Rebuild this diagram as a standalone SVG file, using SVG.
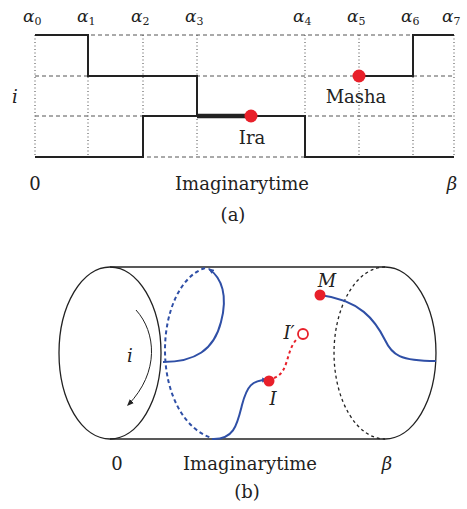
<svg xmlns="http://www.w3.org/2000/svg" width="467" height="509" viewBox="0 0 467 509">
<defs>
<style>
text{font-family:'DejaVu Serif',serif;fill:#222}
.lbl{font-size:18px}
.al{font-size:17px;font-style:italic}
.it{font-style:italic}
.dot{stroke:#444;stroke-width:1;stroke-dasharray:1,2.5;fill:none}
.dash{stroke:#555;stroke-width:1;stroke-dasharray:4,3;fill:none}
.wl{stroke:#222;stroke-width:2;fill:none}
.cyl{stroke:#222;stroke-width:1.3;fill:none}
.blue{stroke:#2f4fa6;stroke-width:2;fill:none}
.red{fill:#e8202a}
</style>
<marker id="ab" viewBox="0 0 10 10" refX="8" refY="5" markerWidth="6" markerHeight="6" orient="auto" markerUnits="userSpaceOnUse"><path d="M0,1 L10,5 L0,9 Z" fill="#2f4fa6"/></marker>
<marker id="ak" viewBox="0 0 10 10" refX="8" refY="5" markerWidth="7" markerHeight="7" orient="auto" markerUnits="userSpaceOnUse"><path d="M0,1 L10,5 L0,9 Z" fill="#222"/></marker>
</defs>

<!-- Panel (a) -->
<g id="grid">
<line class="dot" x1="35" y1="35" x2="35" y2="157"/>
<line class="dot" x1="88" y1="35" x2="88" y2="157"/>
<line class="dot" x1="143" y1="35" x2="143" y2="157"/>
<line class="dot" x1="197" y1="35" x2="197" y2="157"/>
<line class="dot" x1="305" y1="35" x2="305" y2="157"/>
<line class="dot" x1="359" y1="35" x2="359" y2="157"/>
<line class="dot" x1="413" y1="35" x2="413" y2="157"/>
<line class="dot" x1="454" y1="35" x2="454" y2="157"/>
<line class="dash" x1="35" y1="35" x2="454" y2="35"/>
<line class="dash" x1="35" y1="76" x2="454" y2="76"/>
<line class="dash" x1="35" y1="116" x2="454" y2="116"/>
<line class="dash" x1="35" y1="157" x2="454" y2="157"/>
</g>
<g id="alpha-labels">
<text x="23" y="22" class="al">α<tspan font-size="11" font-style="normal" dy="3">0</tspan></text>
<text x="77" y="22" class="al">α<tspan font-size="11" font-style="normal" dy="3">1</tspan></text>
<text x="131" y="22" class="al">α<tspan font-size="11" font-style="normal" dy="3">2</tspan></text>
<text x="185" y="22" class="al">α<tspan font-size="11" font-style="normal" dy="3">3</tspan></text>
<text x="293" y="22" class="al">α<tspan font-size="11" font-style="normal" dy="3">4</tspan></text>
<text x="347" y="22" class="al">α<tspan font-size="11" font-style="normal" dy="3">5</tspan></text>
<text x="401" y="22" class="al">α<tspan font-size="11" font-style="normal" dy="3">6</tspan></text>
<text x="442" y="22" class="al">α<tspan font-size="11" font-style="normal" dy="3">7</tspan></text>
</g>
<g id="worldlines">
<path class="wl" d="M35,35 H88 V76 H197 V116 H251"/>
<path d="M197,116 H251" style="stroke:#222;stroke-width:4.5;fill:none"/>
<path class="wl" d="M35,157 H143 V116 H305 V157 H454"/>
<path class="wl" d="M359,76 H413 V35 H454"/>
</g>
<g id="masha-a">
<circle class="red" cx="359" cy="76" r="6.5"/>
<text class="lbl" x="356" y="103" text-anchor="middle">Masha</text>
</g>
<g id="ira-a">
<circle class="red" cx="251" cy="116" r="6.5"/>
<text class="lbl" x="252" y="144" text-anchor="middle">Ira</text>
</g>
<g id="axis-a" class="lbl">
<text x="15" y="103" class="it" text-anchor="middle">i</text>
<text x="35" y="190" text-anchor="middle">0</text>
<text x="242" y="190" text-anchor="middle">Imaginarytime</text>
<text x="452" y="190" class="it" text-anchor="middle">β</text>
<text x="233" y="221" text-anchor="middle">(a)</text>
</g>

<!-- Panel (b) -->
<g id="cylinder">
<ellipse class="cyl" cx="110" cy="353" rx="51" ry="86"/>
<line class="cyl" x1="110" y1="267" x2="385" y2="267"/>
<line class="cyl" x1="110" y1="439" x2="385" y2="439"/>
<path class="cyl" d="M385,267 A51,86 0 0 1 385,439"/>
<path class="cyl" d="M385,267 A51,86 0 0 0 385,439" stroke-dasharray="3,3"/>
</g>
<g id="rotation">
<path d="M136,310 C156,332 160,372 128,405" stroke="#222" stroke-width="1" fill="none" marker-end="url(#ak)"/>
<text class="lbl it" x="130" y="362" text-anchor="middle">i</text>
</g>
<g id="connectors">
<path class="blue" d="M163,362 C195,362 214,350 221,322 C228,296 222,278 209,269" marker-end="url(#ab)"/>
<path class="blue" d="M205,268 C180,276 165,312 165,350 C165,395 185,430 212,438" style="stroke-dasharray:4,3"/>
<path class="blue" d="M212,439 C234,440 237,425 242,405 C247,386 252,380 267,380" marker-end="url(#ab)"/>
<path d="M274,378 C290,372 285,350 298,338" stroke="#e8202a" stroke-width="2" stroke-dasharray="3,3" fill="none"/>
<path class="blue" d="M320,295 C360,300 375,320 385,340 C392,355 400,361 436,361"/>
</g>
<g id="node-I">
<circle class="red" cx="269" cy="381" r="5.5"/>
<text class="lbl it" x="273" y="405" text-anchor="middle">I</text>
</g>
<g id="node-Iprime">
<circle cx="303" cy="334" r="5" fill="#fff" stroke="#e8202a" stroke-width="1.8"/>
<text class="lbl it" x="289" y="339" text-anchor="middle">I′</text>
</g>
<g id="node-M">
<circle class="red" cx="320" cy="295" r="5.5"/>
<text class="lbl it" x="327" y="287" text-anchor="middle">M</text>
</g>
<g id="axis-b" class="lbl">
<text x="117" y="470" text-anchor="middle">0</text>
<text x="250" y="470" text-anchor="middle">Imaginarytime</text>
<text x="387" y="470" class="it" text-anchor="middle">β</text>
<text x="247" y="498" text-anchor="middle">(b)</text>
</g>
</svg>
